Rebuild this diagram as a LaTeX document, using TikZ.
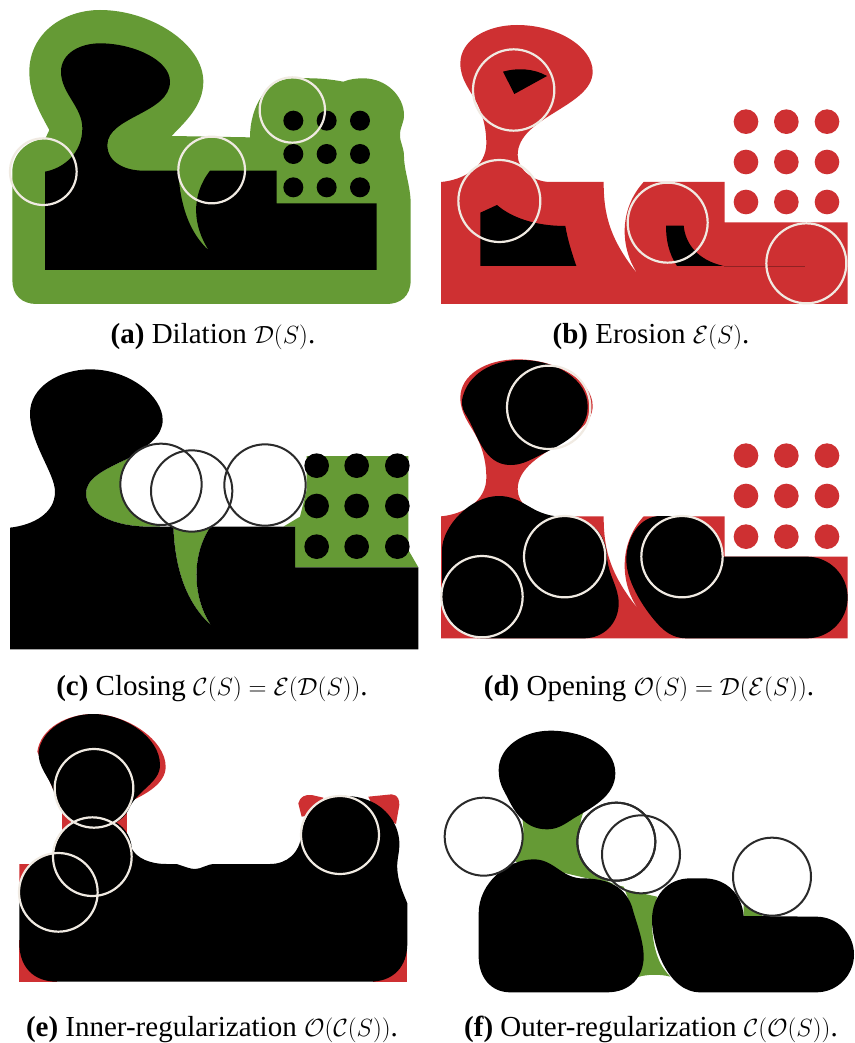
\documentclass[tikz,border=0pt]{standalone}
\usepackage{fontspec}
\setmainfont{Liberation Serif}
\definecolor{gr}{HTML}{659A35}
\definecolor{rd}{HTML}{CE3032}
\definecolor{ring}{HTML}{F0EAE2}
\definecolor{dring}{HTML}{2A2A2A}
\tikzset{
  wring/.style={draw=ring,line width=2.2pt},
  bring/.style={draw=dring,fill=white,line width=2pt},
  captxt/.style={anchor=base,font=\fontsize{29}{32}\selectfont,text=black,inner sep=0pt},
  panel/.style={x=0.33333pt,y=-0.33333pt},
}
\newcommand{\redsil}{(42,912) -- (42,546) .. controls (110,540) and (178,500) .. (178,430) .. controls (178,390) and (170,350) .. (150,310) .. controls (130,270) and (100,240) .. (100,190) .. controls (100,120) and (180,75) .. (270,75) .. controls (390,75) and (497,140) .. (497,215) .. controls (497,320) and (272,350) .. (272,465) .. controls (272,510) and (320,546) .. (370,546) -- (530,546) .. controls (530,640) and (545,720) .. (645,838) .. controls (585,770) and (565,640) .. (650,546) -- (893,546) -- (893,667) -- (1262,667) -- (1262,912) -- cycle}
\begin{document}
\begin{tikzpicture}[x=1pt,y=-1pt]
\useasboundingbox (0,0) rectangle (854,1043);
\fill[white] (0,0) rectangle (854,1043);
%% (a)
\begin{scope}[panel]
\fill[gr] (37,840) -- (37,515) .. controls (37,460) and (85,418) .. (135,418) -- (148,390) .. controls (115,330) and (88,280) .. (88,215) .. controls (88,100) and (190,30) .. (300,30) .. controls (450,30) and (610,130) .. (610,245) .. controls (610,320) and (550,370) .. (515,408) -- (750,412) .. controls (750,320) and (800,235) .. (880,235) .. controls (920,235) and (960,232) .. (1030,245) .. controls (1050,237) and (1070,235) .. (1090,235) .. controls (1160,235) and (1212,290) .. (1212,345) .. controls (1212,370) and (1200,380) .. (1200,405) .. controls (1200,430) and (1212,440) .. (1212,470) .. controls (1212,510) and (1232,560) .. (1232,610) -- (1232,840) .. controls (1232,890) and (1200,912) .. (1160,912) -- (110,912) .. controls (65,912) and (37,885) .. (37,840) -- cycle;
\fill[black] (135,810) -- (135,515) .. controls (190,505) and (247,460) .. (247,385) .. controls (247,320) and (183,280) .. (183,215) .. controls (183,160) and (240,130) .. (300,130) .. controls (400,130) and (510,180) .. (510,245) .. controls (510,340) and (322,350) .. (322,435) .. controls (322,490) and (380,512) .. (430,512) -- (535,512) .. controls (540,620) and (570,700) .. (627,752) .. controls (580,680) and (570,590) .. (630,512) -- (830,512) -- (830,610) -- (1130,610) -- (1130,810) -- cycle;
\foreach \x in {880,980,1080}\foreach \y in {362,462,562}\fill[black] (\x,\y) circle[radius=30];
\draw[wring] (130,515) circle[radius=100];
\draw[wring] (635,510) circle[radius=100];
\draw[wring] (877,330) circle[radius=98];
\end{scope}
%% (b)
\begin{scope}[panel,xshift=427pt]
\fill[rd] \redsil;
\foreach \x in {957,1078,1200}\foreach \y in {365,486,606}\fill[rd] (\x,\y) circle[radius=37];
\fill[black] (228,215) .. controls (270,203) and (320,205) .. (360,228) -- (262,282) -- cycle;
\fill[black] (160,798) -- (160,638) -- (210,615) .. controls (250,650) and (320,678) .. (415,678) .. controls (422,720) and (435,760) .. (448,798) -- cycle;
\fill[black] (717,677) -- (770,677) .. controls (775,730) and (810,780) .. (890,798) -- (750,798) .. controls (725,760) and (717,720) .. (717,677) -- cycle;
\draw[rd!70!black,line width=.6pt] (890,798) -- (1135,798);
\draw[wring] (260,270) circle[radius=122];
\draw[wring] (217,603) circle[radius=123];
\draw[wring] (722,668) circle[radius=120];
\draw[wring] (1138,790) circle[radius=120];
\end{scope}
%% (c)
\begin{scope}[panel,yshift=-350pt]
\fill[gr] (850,530) -- (900,500) -- (920,420) -- (920,318) -- (1225,318) -- (1225,600) -- (1255,652) -- (885,652) -- (885,530) -- cycle;
\fill[gr] (510,525) rectangle (640,540);
\fill[gr] (520,530) .. controls (525,660) and (560,760) .. (635,828) .. controls (580,750) and (570,620) .. (632,530) -- cycle;
\fill[gr] (385,325) .. controls (310,360) and (258,385) .. (258,430) .. controls (258,490) and (340,530) .. (450,530) -- (480,530) -- (440,400) -- cycle;
\fill[black] (30,898) -- (30,533) .. controls (100,525) and (165,490) .. (165,425) .. controls (165,370) and (90,280) .. (90,190) .. controls (90,110) and (180,58) .. (270,58) .. controls (390,58) and (488,140) .. (488,210) .. controls (488,260) and (440,290) .. (385,325) .. controls (310,360) and (258,385) .. (258,430) .. controls (258,490) and (340,530) .. (450,530) -- (520,530) .. controls (525,660) and (560,760) .. (635,828) .. controls (580,750) and (570,620) .. (632,530) -- (885,530) -- (885,652) -- (1255,652) -- (1255,898) -- cycle;
\foreach \x in {950,1070,1192}\foreach \y in {347,468,590}\fill[black] (\x,\y) circle[radius=37];
\fill[white] (483,403) circle[radius=122] (575,423) circle[radius=122] (795,405) circle[radius=122];
\fill[white] (560,400) rectangle (740,528);
\path[bring,fill=none] (483,403) circle[radius=122];
\path[bring,fill=none] (575,423) circle[radius=122];
\path[bring,fill=none] (795,405) circle[radius=122];
\end{scope}
%% (d)
\begin{scope}[panel,xshift=427pt,yshift=-350pt]
\begin{scope}[yshift=15.667pt]
\fill[rd] \redsil;
\end{scope}
\foreach \x in {957,1078,1200}\foreach \y in {317,438,560}\fill[rd] (\x,\y) circle[radius=37];
\fill[black] (105,150) .. controls (120,70) and (200,30) .. (280,30) .. controls (390,30) and (482,90) .. (482,170) .. controls (482,250) and (400,285) .. (330,320) .. controls (300,335) and (280,345) .. (250,345) .. controls (170,345) and (150,250) .. (120,200) .. controls (110,185) and (103,170) .. (105,150) -- cycle;
\fill[black] (470,865) -- (165,865) .. controls (100,865) and (45,810) .. (45,745) -- (45,600) .. controls (45,530) and (130,438) .. (215,438) .. controls (290,438) and (310,495) .. (400,500) .. controls (470,500) and (535,530) .. (540,620) .. controls (545,680) and (575,710) .. (575,760) .. controls (575,820) and (530,865) .. (470,865) -- cycle;
\fill[black] (1140,620) -- (888,620) .. controls (888,560) and (830,498) .. (765,498) -- (700,498) .. controls (640,498) and (598,560) .. (598,630) .. controls (598,700) and (660,790) .. (700,830) .. controls (725,855) and (750,865) .. (780,865) -- (1140,865) arc[start angle=90,end angle=-90,x radius=122,y radius=122.5] -- cycle;
\draw[wring] (365,172) circle[radius=125];
\draw[wring] (413,620) circle[radius=122];
\draw[wring] (165,740) circle[radius=122];
\draw[wring] (765,620) circle[radius=122];
\end{scope}
%% (e)
\begin{scope}[panel,yshift=-700pt]
\fill[rd] (112,155) .. controls (122,85) and (200,42) .. (280,42) .. controls (380,42) and (497,120) .. (497,200) .. controls (497,250) and (440,280) .. (400,300) -- (160,270) -- cycle;
\fill[rd] (185,335) rectangle (380,420);
\fill[rd] (58,492) -- (110,492) -- (58,570) -- cycle;
\fill[rd] (58,720) rectangle (170,845);
\fill[rd] (1120,720) rectangle (1222,845);
\fill[rd] (905,350) -- (895,310) .. controls (900,290) and (915,283) .. (935,285) -- (970,293) -- (960,340) -- cycle;
\fill[rd] (1105,290) -- (1175,283) .. controls (1195,285) and (1198,300) .. (1198,315) -- (1188,372) -- (1130,340) -- cycle;
\fill[black] (116,155) .. controls (125,90) and (200,42) .. (280,42) .. controls (370,42) and (480,110) .. (480,195) .. controls (480,250) and (410,270) .. (385,330) .. controls (370,365) and (320,385) .. (280,385) .. controls (220,385) and (175,330) .. (160,270) .. controls (150,235) and (112,200) .. (116,155) -- cycle;
\fill[black] (58,730) -- (58,580) .. controls (58,520) and (100,465) .. (160,460) .. controls (165,430) and (185,390) .. (215,365) .. controls (240,350) and (320,350) .. (345,365) .. controls (380,385) and (395,420) .. (395,445) .. controls (410,475) and (450,492) .. (500,492) -- (530,492) .. controls (555,500) and (570,507) .. (585,507) .. controls (605,507) and (620,492) .. (645,492) -- (810,492) .. controls (860,492) and (900,460) .. (905,400) .. controls (910,340) and (960,290) .. (1020,288) .. controls (1090,285) and (1140,310) .. (1170,350) .. controls (1190,375) and (1200,410) .. (1198,440) .. controls (1196,470) and (1190,480) .. (1192,510) .. controls (1195,550) and (1210,580) .. (1222,610) -- (1222,730) .. controls (1222,800) and (1180,845) .. (1110,845) -- (170,845) .. controls (100,845) and (58,800) .. (58,730) -- cycle;
\draw[wring] (282,265) circle[radius=118];
\draw[wring] (277,470) circle[radius=118];
\draw[wring] (175,577) circle[radius=118];
\draw[wring] (1020,405) circle[radius=117];
\end{scope}
%% (f)
\begin{scope}[panel,xshift=427pt,yshift=-700pt]
\fill[gr] (285,350) -- (470,335) .. controls (450,380) and (450,470) .. (500,525) -- (600,570) -- (690,590) -- (675,680) .. controls (680,760) and (700,800) .. (730,830) .. controls (700,822) and (660,822) .. (630,832) -- (620,640) -- (590,560) -- (265,485) .. controls (285,450) and (295,400) .. (285,350) -- cycle;
\fill[gr] (950,610) -- (950,650) -- (1010,650) -- cycle;
\fill[black] (215,210) .. controls (215,140) and (290,92) .. (370,92) .. controls (470,92) and (565,140) .. (565,220) .. controls (565,290) and (490,325) .. (440,355) .. controls (410,375) and (390,388) .. (360,388) .. controls (290,388) and (260,330) .. (240,290) .. controls (230,270) and (215,250) .. (215,210) -- cycle;
\fill[black] (155,770) -- (155,640) .. controls (155,550) and (240,478) .. (320,478) .. controls (380,478) and (400,530) .. (460,535) .. controls (530,535) and (590,550) .. (615,620) .. controls (625,660) and (650,720) .. (650,770) .. controls (650,830) and (610,877) .. (540,877) -- (250,877) .. controls (190,877) and (155,830) .. (155,770) -- cycle;
\fill[black] (1168,650) -- (950,648) .. controls (945,585) and (900,535) .. (830,535) -- (790,535) .. controls (720,535) and (675,590) .. (675,660) .. controls (675,730) and (720,877) .. (820,877) -- (1168,877) arc[start angle=90,end angle=-90,x radius=113,y radius=113.5] -- cycle;
\path[bring] (170,410) circle[radius=117];
\path[bring] (568,425) circle[radius=117];
\path[bring] (1035,530) circle[radius=117];
\path[bring,fill=none] (642,463) circle[radius=117];
\path[bring,fill=none] (568,425) circle[radius=117];
\end{scope}
%% captions
\node[captxt] (capa) at (213,343) {\textbf{(a)} Dilation $\mathcal{D}(S)$.};
\node[captxt] (capb) at (651,343) {\textbf{(b)} Erosion $\mathcal{E}(S)$.};
\node[captxt] (capc) at (212,695) {\textbf{(c)} Closing $\mathcal{C}(S)=\mathcal{E}(\mathcal{D}(S))$.};
\node[captxt] (capd) at (649,695) {\textbf{(d)} Opening $\mathcal{O}(S)=\mathcal{D}(\mathcal{E}(S))$.};
\node[captxt] (cape) at (212,1036) {\textbf{(e)} Inner-regularization $\mathcal{O}(\mathcal{C}(S))$.};
\node[captxt] (capf) at (651,1036) {\textbf{(f)} Outer-regularization $\mathcal{C}(\mathcal{O}(S))$.};
\end{tikzpicture}
\end{document}
